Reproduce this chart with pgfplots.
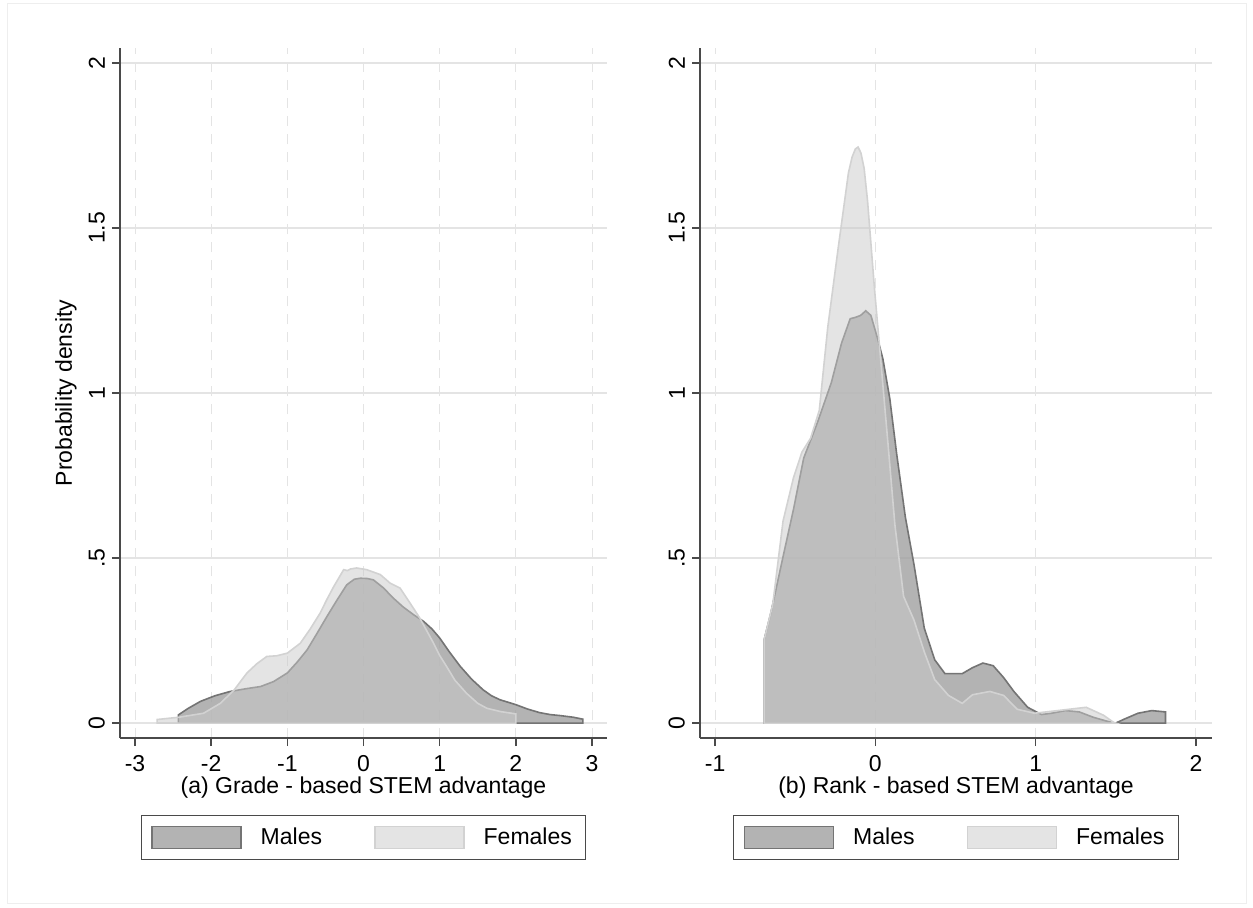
\documentclass[border=0pt]{standalone}
\usepackage{fontspec}
\setmainfont{Liberation Sans}
\usepackage{pgfplots}
\pgfplotsset{compat=1.18}
\definecolor{axisgray}{HTML}{4A4A4A}
\definecolor{gridgray}{HTML}{E4E4E4}
\definecolor{malefill}{HTML}{A0A0A0}
\definecolor{maleline}{HTML}{747474}
\definecolor{femfill}{HTML}{CACACA}
\definecolor{femline}{HTML}{D2D2D2}
\definecolor{framegray}{HTML}{EEEEEE}
\newcommand{\lblfont}{\fontsize{11.5}{13}\selectfont}
\pgfplotsset{
  stata/.style={
    scale only axis,
    height=345pt,
    axis x line*=bottom, axis y line*=left,
    axis line style={axisgray, line width=0.75pt},
    tick style={axisgray, line width=0.75pt},
    tick align=outside,
    major tick length=4pt,
    ymin=-0.045, ymax=2.045,
    ytick={0,0.5,1,1.5,2},
    yticklabels={0,.5,1,1.5,2},
    yticklabel style={rotate=90, anchor=south, font=\lblfont},
    xticklabel style={font=\lblfont, anchor=north, inner sep=1.5pt, yshift=-3pt},
    xmajorgrids, ymajorgrids,
    major x grid style={gridgray, line width=0.5pt, dash pattern=on 5pt off 4pt},
    major y grid style={gridgray, line width=0.7pt},
    label style={font=\lblfont},
    xlabel style={at={(axis description cs:0.5,-0.0725)}, anchor=center},
    legend columns=2,
    legend style={at={(axis description cs:0.5,-0.1116)}, anchor=north,
      draw=axisgray, line width=0.6pt, fill=white, font=\lblfont,
      inner xsep=5pt, inner ysep=4pt,
      /tikz/every even column/.append style={column sep=24pt}},
    legend image code/.code={\draw[#1] (0pt,-5.5pt) rectangle (44.5pt,5.5pt); \path (52pt,0pt);},
  },
  male/.style={fill=malefill, fill opacity=0.8, draw=maleline, line width=0.8pt},
  female/.style={fill=femfill, fill opacity=0.5, draw=femline, line width=0.8pt},
}
\begin{document}
\begin{tikzpicture}
\useasboundingbox (0,0) rectangle (626.5pt,453.5pt);
\fill[white] (0,0) rectangle (626.5pt,453.5pt);
\draw[framegray, line width=0.5pt] (3.5pt,2pt) rectangle (623pt,451.5pt);
% ---------------- panel (a)
\begin{axis}[stata,
  at={(60pt,84.5pt)}, anchor=south west,
  width=243.5pt,
  xmin=-3.197, xmax=3.197,
  xtick={-3,-2,-1,0,1,2,3},
  xticklabels={-3,-2,-1,0,1,2,3},
  xlabel={(a) Grade - based STEM advantage},
  ylabel={Probability density},
  ylabel style={at={(axis description cs:-0.1109,0.5)}, anchor=center},
]
\addplot[male] coordinates {
(-2.43,0) (-2.43,0.025) (-2.3,0.045) (-2.14,0.066) (-1.95,0.083) (-1.75,0.096)
(-1.55,0.104) (-1.35,0.111) (-1.18,0.126) (-1.0,0.152) (-0.87,0.185) (-0.74,0.222)
(-0.61,0.272) (-0.48,0.323) (-0.35,0.372) (-0.22,0.419) (-0.12,0.436) (-0.04,0.439)
(0.05,0.438) (0.13,0.434) (0.26,0.41) (0.39,0.379) (0.52,0.352) (0.66,0.328)
(0.79,0.308) (0.9,0.285) (1.0,0.258) (1.13,0.215) (1.27,0.172) (1.42,0.133)
(1.57,0.101) (1.68,0.083) (1.79,0.071) (2.0,0.056) (2.15,0.043) (2.31,0.032)
(2.45,0.026) (2.58,0.023) (2.75,0.018) (2.88,0.012) (2.88,0)
} \closedcycle;
\addlegendentry{Males}
\addplot[female] coordinates {
(-2.71,0) (-2.71,0.011) (-2.42,0.018) (-2.1,0.03) (-1.88,0.06) (-1.70,0.10)
(-1.53,0.152) (-1.4,0.18) (-1.27,0.202) (-1.14,0.204) (-1.0,0.212) (-0.83,0.242)
(-0.7,0.285) (-0.57,0.333) (-0.48,0.375) (-0.39,0.414) (-0.26,0.465) (-0.21,0.462)
(-0.17,0.467) (-0.09,0.47) (0.04,0.465) (0.22,0.45) (0.35,0.424) (0.48,0.409)
(0.61,0.364) (0.74,0.318) (0.83,0.28) (0.92,0.242) (1.0,0.205) (1.09,0.172)
(1.2,0.13) (1.35,0.091) (1.5,0.06) (1.62,0.045) (1.8,0.035) (2.0,0.028) (2.0,0)
} \closedcycle;
\addlegendentry{Females}
\end{axis}
% ---------------- panel (b)
\begin{axis}[stata,
  at={(350pt,84.5pt)}, anchor=south west,
  width=256pt,
  xmin=-1.094, xmax=2.1,
  xtick={-1,0,1,2},
  xticklabels={-1,0,1,2},
  xlabel={(b) Rank - based STEM advantage},
]
\addplot[male] coordinates {
(-0.694,0) (-0.694,0.252) (-0.651,0.336) (-0.576,0.504) (-0.511,0.647) (-0.447,0.803)
(-0.361,0.911) (-0.275,1.031) (-0.211,1.151) (-0.157,1.225) (-0.125,1.229) (-0.092,1.235)
(-0.06,1.249) (-0.028,1.235) (0.015,1.163) (0.047,1.103) (0.09,0.983) (0.133,0.815)
(0.187,0.624) (0.241,0.48) (0.305,0.288) (0.37,0.192) (0.434,0.15) (0.542,0.15)
(0.606,0.168) (0.671,0.182) (0.735,0.174) (0.8,0.138) (0.864,0.096) (0.95,0.048)
(1.036,0.026) (1.1,0.03) (1.186,0.038) (1.272,0.034) (1.358,0.018) (1.444,0.006)
(1.498,0.0) (1.552,0.012) (1.638,0.03) (1.724,0.038) (1.81,0.034) (1.81,0)
} \closedcycle;
\addlegendentry{Males}
\addplot[female] coordinates {
(-0.694,0) (-0.694,0.252) (-0.64,0.36) (-0.576,0.612) (-0.511,0.743) (-0.458,0.821)
(-0.404,0.863) (-0.35,0.947) (-0.297,1.199) (-0.232,1.439) (-0.168,1.667) (-0.145,1.715)
(-0.125,1.739) (-0.108,1.745) (-0.09,1.727) (-0.07,1.68) (-0.049,1.583) (-0.006,1.319)
(0.037,1.079) (0.08,0.839) (0.122,0.6)
(0.176,0.384) (0.241,0.312) (0.305,0.216) (0.37,0.132) (0.456,0.084) (0.542,0.06)
(0.606,0.086) (0.714,0.096) (0.8,0.084) (0.885,0.042) (0.993,0.03) (1.1,0.036)
(1.208,0.042) (1.315,0.048) (1.423,0.024) (1.487,0.002) (1.5,0)
} \closedcycle;
\addlegendentry{Females}
\end{axis}
\end{tikzpicture}
\end{document}
